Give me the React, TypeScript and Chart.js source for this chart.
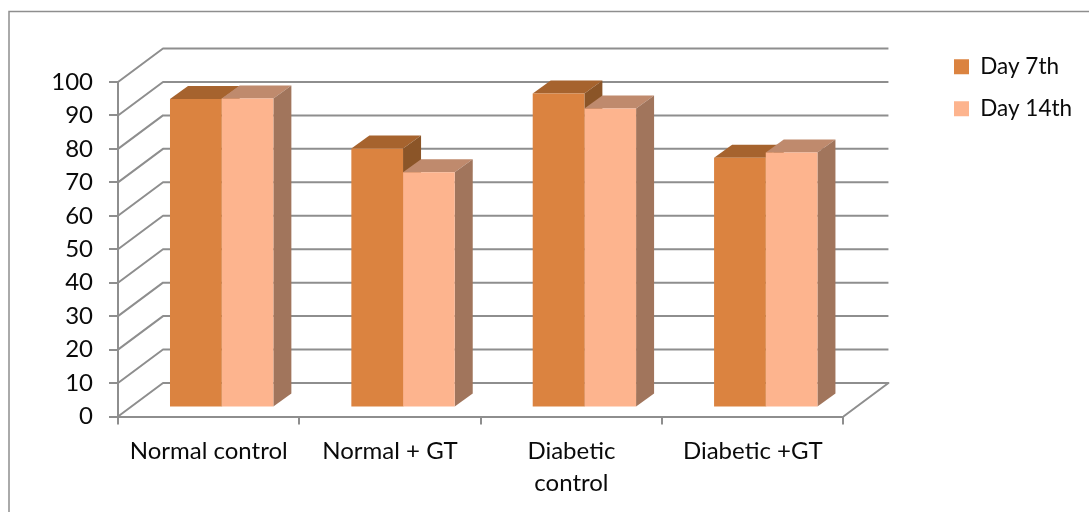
import { useEffect, useRef } from "react";
import { Chart, registerables } from "chart.js";

Chart.register(...registerables);

const categories = [
  "Normal control",
  "Normal + GT",
  ["Diabetic", "control"],
  "Diabetic +GT",
];
const day7Values = [92.2, 77.4, 93.9, 74.7];
const day14Values = [92.4, 70.3, 89.4, 76.2];
const yTicks = [0, 10, 20, 30, 40, 50, 60, 70, 80, 90, 100];

const FONT = "Lato, sans-serif";
const LINE = "#8e8e8e";
const TEXT = "#0a0a0a";

// Perspective offsets for the floor/walls and for the bars standing on the floor.
const WALL = { dx: 45, dy: -33.5 };
const BAR_SHIFT = { dx: 13, dy: -9 };
const BAR_DEPTH = { dx: 18, dy: -13 };

const faceColors = [
  { top: "#a6632e", side: "#8b5528" },
  { top: "#bf8a6d", side: "#a1755c" },
];

const frame3d = {
  id: "frame3d",
  beforeDraw(chart: any) {
    const { ctx } = chart;
    ctx.save();
    ctx.strokeStyle = LINE;
    ctx.lineWidth = 1.5;
    ctx.strokeRect(9, 11.5, chart.width + 20, chart.height + 20);
    ctx.restore();
  },
  beforeDatasetsDraw(chart: any) {
    const { ctx, chartArea, scales } = chart;
    const { left, right } = chartArea;
    ctx.save();
    ctx.strokeStyle = LINE;
    ctx.lineWidth = 2;
    ctx.lineJoin = "round";
    for (const tick of yTicks) {
      const y = scales.y.getPixelForValue(tick);
      ctx.beginPath();
      ctx.moveTo(left, y);
      ctx.lineTo(left + WALL.dx, y + WALL.dy);
      ctx.lineTo(right + WALL.dx, y + WALL.dy);
      if (tick === 0) ctx.lineTo(right, y);
      ctx.stroke();
    }
    ctx.restore();

    // Tops and sides go first, series by series; the front faces all share one
    // plane and are painted over them by the bar controller.
    ctx.save();
    ctx.translate(BAR_SHIFT.dx, BAR_SHIFT.dy);
    faceColors.forEach((colors, index) => {
      for (const bar of chart.getDatasetMeta(index).data as any[]) {
        const half = bar.width / 2;
        const l = bar.x - half;
        const r = bar.x + half;
        ctx.fillStyle = colors.top;
        ctx.beginPath();
        ctx.moveTo(l, bar.y);
        ctx.lineTo(l + BAR_DEPTH.dx, bar.y + BAR_DEPTH.dy);
        ctx.lineTo(r + BAR_DEPTH.dx, bar.y + BAR_DEPTH.dy);
        ctx.lineTo(r, bar.y);
        ctx.closePath();
        ctx.fill();
        ctx.fillStyle = colors.side;
        ctx.beginPath();
        ctx.moveTo(r, bar.y);
        ctx.lineTo(r + BAR_DEPTH.dx, bar.y + BAR_DEPTH.dy);
        ctx.lineTo(r + BAR_DEPTH.dx, bar.base + BAR_DEPTH.dy);
        ctx.lineTo(r, bar.base);
        ctx.closePath();
        ctx.fill();
      }
    });
    ctx.restore();
  },
  beforeDatasetDraw(chart: any) {
    chart.ctx.save();
    chart.ctx.translate(BAR_SHIFT.dx, BAR_SHIFT.dy);
  },
  afterDatasetDraw(chart: any) {
    chart.ctx.restore();
  },
  afterLayout(chart: any) {
    // The legend sits higher than the plot, level with the back wall.
    const legend = chart.legend;
    const width = legend.right - legend.left;
    legend.left = 934.5;
    legend.right = 934.5 + width;
    legend.top = 36;
  },
};

export default function App() {
  const canvasRef = useRef<HTMLCanvasElement | null>(null);

  useEffect(() => {
    const chart = new Chart(canvasRef.current!, {
      type: "bar",
      data: {
        labels: categories as any,
        datasets: [
          { label: "Day 7th", data: day7Values, backgroundColor: "#db8340", clip: false as any },
          { label: "Day 14th", data: day14Values, backgroundColor: "#fdb48e", clip: false as any },
        ],
      },
      options: {
        responsive: false,
        animation: false,
        devicePixelRatio: 1,
        categoryPercentage: 0.57,
        barPercentage: 1,
        layout: { padding: { top: 82, right: 98, left: 0, bottom: 0 } },
        plugins: {
          title: { display: false },
          tooltip: { enabled: false },
          legend: {
            display: true,
            position: "right",
            align: "start",
            labels: {
              boxWidth: 15,
              boxHeight: 15,
              padding: 19.5,
              color: TEXT,
              font: { family: FONT, size: 22.5 },
            },
          },
        },
        scales: {
          x: {
            afterFit: (s: any) => { s.height = 95.5; },
            border: { display: true, color: LINE, width: 2 },
            grid: { drawOnChartArea: false, drawTicks: true, tickLength: 8, color: LINE, lineWidth: 2 },
            ticks: {
              color: TEXT,
              maxRotation: 0,
              minRotation: 0,
              padding: 11,
              font: { family: FONT, size: 24, lineHeight: 1.33 },
            },
          },
          y: {
            min: 0,
            max: 100,
            afterFit: (s: any) => { s.width = 118; },
            afterBuildTicks: (s: any) => { s.ticks = yTicks.map((value) => ({ value })); },
            border: { display: true, color: LINE, width: 2 },
            grid: { drawOnChartArea: false, drawTicks: true, tickLength: 9, color: LINE, lineWidth: 2 },
            ticks: {
              color: TEXT,
              padding: 16,
              font: { family: FONT, size: 24 },
            },
          },
        },
      },
      plugins: [frame3d],
    });
    return () => chart.destroy();
  }, []);

  return (
    <canvas
      ref={canvasRef}
      width={1089}
      height={512}
      style={{ position: "absolute", left: 0, top: 0, display: "block" }}
    />
  );
}
